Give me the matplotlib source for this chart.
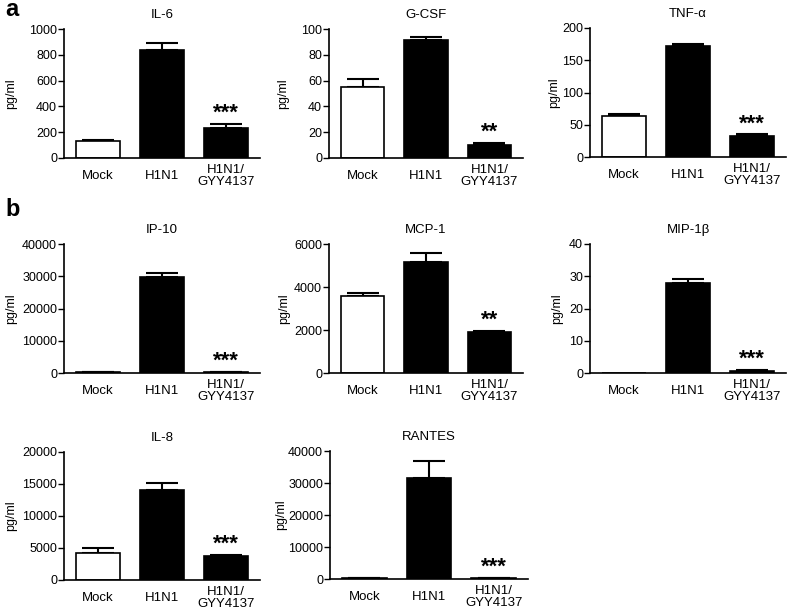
import matplotlib.pyplot as plt

plt.rcParams['font.family'] = ['Liberation Sans', 'DejaVu Sans']

groups = ['Mock', 'H1N1', 'H1N1/\nGYY4137']

names = ['IL-6', 'G-CSF', 'TNF-α', 'IP-10', 'MCP-1', 'MIP-1β', 'IL-8', 'RANTES']
means = [
    [130, 840, 235],
    [55, 91.5, 10],
    [63, 172, 33],
    [300, 29800, 300],
    [3570, 5180, 1920],
    [0, 28, 0.7],
    [4200, 14000, 3700],
    [200, 31500, 300],
]
errs = [
    [8, 55, 30],
    [6, 2.5, 2],
    [4, 3, 2],
    [80, 1300, 40],
    [130, 400, 50],
    [0, 1.2, 0.2],
    [800, 1100, 250],
    [50, 5500, 60],
]
ymax = [1000, 100, 200, 40000, 6000, 40, 20000, 40000]
ystep = [200, 20, 50, 10000, 2000, 10, 5000, 10000]
stars = ['***', '**', '***', '***', '**', '***', '***', '***']

W, H = 787, 614
fig = plt.figure(figsize=(W / 100, H / 100), dpi=100)

# axes boxes in pixels: left, top, right, bottom
boxes = [
    (64, 29, 260, 158), (329, 29, 523, 158), (590, 28, 786, 157),
    (64, 244, 260, 373), (329, 244, 523, 373), (590, 244, 786, 373),
    (64, 452, 260, 580), (330, 451, 528, 579),
]
# x pixel of the y label's right edge
ylab_x = [17, 289, 560, 17, 290, 563, 17, 287]

for i, name in enumerate(names):
    l, t, r, b = boxes[i]
    ax = fig.add_axes([l / W, 1 - b / H, (r - l) / W, (b - t) / H])
    x = range(3)
    ax.bar(x, means[i], width=0.69, color=['white', 'black', 'black'],
           edgecolor='black', linewidth=1.2, zorder=2)
    for j in x:
        if errs[i][j] > 0:
            ax.errorbar(j, means[i][j], yerr=[[0], [errs[i][j]]], fmt='none',
                        ecolor='black', elinewidth=1.5, capsize=11.5,
                        capthick=1.5, zorder=1)
    top = means[i][2] + errs[i][2]
    ax.annotate(stars[i], (2, top), xytext=(0, 0), textcoords='offset points',
                ha='center', va='bottom', fontsize=16, fontweight='bold')
    ax.set_xlim(-0.53, 2.53)
    ax.set_ylim(0, ymax[i])
    ax.set_yticks(range(0, ymax[i] + 1, ystep[i]))
    ax.set_xticks(list(x))
    ax.set_xticklabels(groups, fontsize=9.5, va='center', linespacing=0.95)
    ax.tick_params(axis='x', length=0, pad=13)
    ax.tick_params(axis='y', labelsize=9, length=4, width=1, pad=1)
    for s in ['top', 'right']:
        ax.spines[s].set_visible(False)
    for s in ['left', 'bottom']:
        ax.spines[s].set_linewidth(1.2)
    ax.set_ylabel('pg/ml', fontsize=9)
    ax.yaxis.set_label_coords((ylab_x[i] - l) / (r - l), 0.5)
    ax.set_title(name, fontsize=9.5, pad=8)

fig.text(5 / W, 1 - 10 / H, 'a', fontsize=17, fontweight='bold', va='center')
fig.text(5 / W, 1 - 210 / H, 'b', fontsize=17, fontweight='bold', va='center')

fig.savefig('out.png', dpi=100)
